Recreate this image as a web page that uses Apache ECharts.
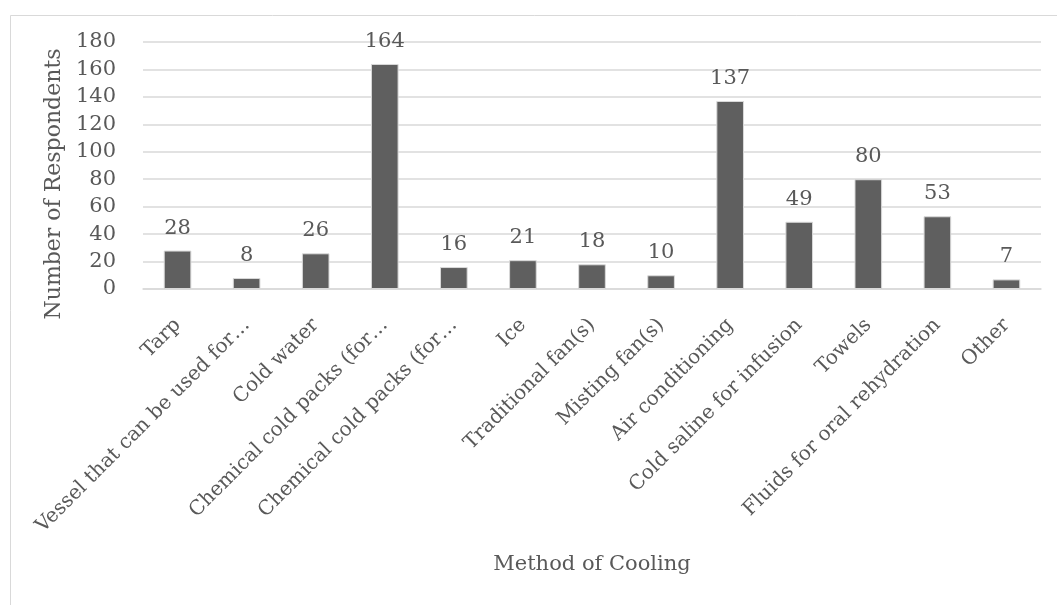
<!DOCTYPE html>
<html>
<head>
<meta charset="utf-8">
<script src="https://cdn.jsdelivr.net/npm/echarts@6/dist/echarts.min.js"></script>
<style>html,body{margin:0;padding:0;background:#fff}#c{width:1057px;height:605px}</style>
</head>
<body>
<div id="c"></div>
<script>
const categories = ["Tarp", "Vessel that can be used for…", "Cold water", "Chemical cold packs (for…", "Chemical cold packs (for…", "Ice", "Traditional fan(s)", "Misting fan(s)", "Air conditioning", "Cold saline for infusion", "Towels", "Fluids for oral rehydration", "Other"];
const respondents = [28, 8, 26, 164, 16, 21, 18, 10, 137, 49, 80, 53, 7];
const yTicks = { min: 0, max: 180, interval: 20 };
const xTitle = "Method of Cooling";
const yTitle = "Number of Respondents";

const FONT = "'Palatino Linotype','Book Antiqua',Palatino,'DejaVu Serif',serif";
const TXT = '#595959';
const chart = echarts.init(document.getElementById('c'), null, {renderer: 'canvas'});
chart.setOption({
  animation: false,
  backgroundColor: '#fff',
  textStyle: { fontFamily: FONT, color: TXT },
  graphic: [{
    type: 'rect', left: 8, top: 13, silent: true, z: -1,
    shape: { width: 1070, height: 620 },
    style: { fill: 'none', stroke: '#d9d9d9', lineWidth: 1 }
  }],
  grid: { left: 143, right: 16, top: 42, bottom: 316, containLabel: false },
  xAxis: {
    type: 'category', data: categories,
    name: xTitle, nameLocation: 'middle', nameGap: 265,
    nameTextStyle: { fontFamily: FONT, fontSize: 21, color: TXT },
    axisLine: { lineStyle: { color: '#d9d9d9', width: 1.5 } },
    axisTick: { show: false },
    axisLabel: { interval: 0, rotate: 45, margin: 33, fontFamily: FONT, fontSize: 20, color: TXT }
  },
  yAxis: {
    type: 'value', min: yTicks.min, max: yTicks.max, interval: yTicks.interval,
    name: yTitle, nameLocation: 'middle', nameGap: 74, nameRotate: 90,
    nameTextStyle: { fontFamily: FONT, fontSize: 22, color: TXT, padding: [0, 37, 0, 0] },
    axisLine: { show: false }, axisTick: { show: false },
    axisLabel: { margin: 27, fontFamily: FONT, fontSize: 21, color: TXT },
    splitLine: { lineStyle: { color: '#d9d9d9', width: 1.5 } }
  },
  series: [{
    type: 'bar', data: respondents, barWidth: '40%',
    itemStyle: { color: '#5f5f5f', borderColor: '#d9d9d9', borderWidth: 1 },
    label: { show: true, position: 'top', distance: 12, fontFamily: FONT, fontSize: 21, color: TXT }
  }]
});
</script>
</body>
</html>
